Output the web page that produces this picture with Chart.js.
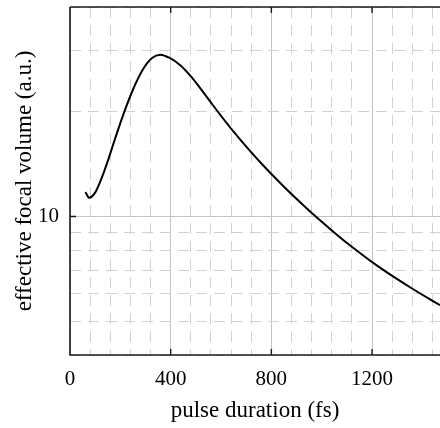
<!DOCTYPE html>
<html>
<head>
<meta charset="utf-8">
<script src="https://cdn.jsdelivr.net/npm/chart.js@4"></script>
<style>
  html, body { margin: 0; padding: 0; background: #fff; }
  #wrap { width: 440px; height: 428px; overflow: hidden; }
</style>
</head>
<body>
<div id="wrap"><canvas id="chart" width="440" height="428"></canvas></div>
<script>
// valores
const durations = [61, 77, 101, 128, 154, 180, 200, 226, 259, 292, 326, 358, 398, 438, 477, 517, 556, 583, 649, 715, 781, 847, 906, 965, 1031, 1098, 1230, 1362, 1470];
const volumes = [11.75, 11.32, 11.75, 13.02, 14.72, 16.81, 18.56, 20.93, 23.95, 26.64, 28.54, 29.17, 28.5, 27.2, 25.43, 23.4, 21.45, 20.2, 17.56, 15.44, 13.69, 12.24, 11.13, 10.16, 9.24, 8.42, 7.14, 6.19, 5.56];

const xTickLabels = [0, 400, 800, 1200];
const xGridLines = [0, 80, 160, 240, 320, 400, 480, 560, 640, 720, 800, 880, 960, 1040, 1120, 1200, 1280, 1360, 1440];
const yTickLabels = [10];
const yGridLines = [4, 5, 6, 7, 8, 9, 10, 20, 30, 40];

const serif = 'Liberation Serif, "Times New Roman", serif';

// moldura preta com ticks para dentro
const framePlugin = {
    id: 'frame',
    afterDatasetsDraw(chart) {
        const { ctx, chartArea: a, scales } = chart;
        ctx.save();
        ctx.strokeStyle = '#1a1a1a';
        ctx.lineWidth = 1.6;
        ctx.beginPath();
        ctx.moveTo(a.left, a.top);
        ctx.lineTo(a.right + 2, a.top);
        ctx.moveTo(a.left, a.top);
        ctx.lineTo(a.left, a.bottom);
        ctx.lineTo(a.right + 2, a.bottom);
        ctx.stroke();
        ctx.lineWidth = 1.4;
        ctx.beginPath();
        xTickLabels.forEach(v => {
            if (v === 0) return;
            const px = scales.x.getPixelForValue(v);
            ctx.moveTo(px, a.bottom);
            ctx.lineTo(px, a.bottom - 6);
            ctx.moveTo(px, a.top);
            ctx.lineTo(px, a.top + 6);
        });
        yTickLabels.forEach(v => {
            const py = scales.y.getPixelForValue(v);
            ctx.moveTo(a.left, py);
            ctx.lineTo(a.left + 6, py);
        });
        ctx.stroke();
        ctx.restore();
    }
};

const ctxChart = document.getElementById('chart').getContext('2d');
new Chart(ctxChart, {
    type: 'line',
    data: {
        datasets: [{
            data: durations.map((d, i) => ({ x: d, y: volumes[i] })),
            borderColor: '#000',
            borderWidth: 2,
            pointRadius: 0,
            fill: false,
            cubicInterpolationMode: 'monotone'
        }]
    },
    options: {
        responsive: false,
        animation: false,
        devicePixelRatio: 1,
        layout: { autoPadding: false, padding: { top: 7, right: 0, left: 0, bottom: 0 } },
        plugins: { legend: { display: false }, tooltip: { enabled: false } },
        scales: {
            x: {
                type: 'linear',
                min: 0,
                max: 1470,
                afterBuildTicks: s => { s.ticks = xGridLines.map(v => ({ value: v })); },
                afterFit: s => {
                    s.height = 73;
                    s.paddingLeft = 0; s.paddingRight = 0;
                },
                grid: {
                    drawTicks: false,
                    lineWidth: 1,
                    color: c => (c.tick && xTickLabels.includes(c.tick.value)) ? '#c4c4c4' : '#d2d2d2'
                },
                border: {
                    display: false,
                    dash: c => (c.tick && xTickLabels.includes(c.tick.value)) ? [] : [11, 7]
                },
                ticks: {
                    autoSkip: false,
                    maxRotation: 0,
                    padding: 12,
                    color: '#000',
                    font: { family: serif, size: 21 },
                    callback: v => xTickLabels.includes(v) ? String(v) : ''
                },
                title: {
                    display: true,
                    text: 'pulse duration (fs)',
                    color: '#000',
                    font: { family: serif, size: 23 },
                    padding: { top: 0, bottom: 3 }
                }
            },
            y: {
                type: 'logarithmic',
                min: 4,
                max: 40,
                afterBuildTicks: s => { s.ticks = yGridLines.map(v => ({ value: v })); },
                afterFit: s => {
                    s.width = 70;
                    s.paddingTop = 0; s.paddingBottom = 0;
                },
                grid: {
                    drawTicks: false,
                    lineWidth: 1,
                    color: c => (c.tick && yTickLabels.includes(c.tick.value)) ? '#c4c4c4' : '#d2d2d2'
                },
                border: {
                    display: false,
                    dash: c => (c.tick && yTickLabels.includes(c.tick.value)) ? [] : [11, 7]
                },
                ticks: {
                    autoSkip: false,
                    padding: 11,
                    color: '#000',
                    font: { family: serif, size: 21 },
                    callback: v => yTickLabels.includes(v) ? String(v) : ''
                },
                title: {
                    display: true,
                    text: 'effective focal volume (a.u.)',
                    color: '#000',
                    font: { family: serif, size: 23 },
                    padding: { top: 11, bottom: 0 }
                }
            }
        }
    },
    plugins: [framePlugin]
});
</script>
</body>
</html>
